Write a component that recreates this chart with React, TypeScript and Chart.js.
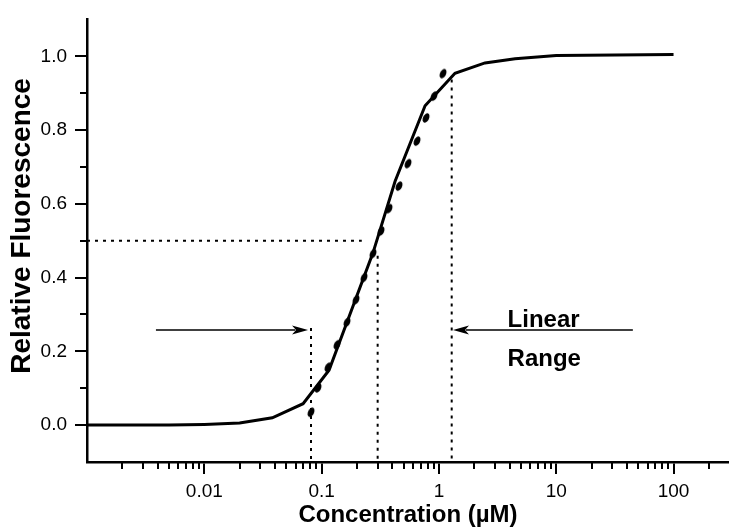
import React, { useEffect, useRef } from "react";
import { Chart, registerables } from "chart.js";

Chart.register(...registerables);

// fitted curve (solid line)
const fitX = [0.001, 0.005, 0.01, 0.02, 0.038, 0.0695, 0.1156, 0.274, 0.423, 0.762, 1.37, 2.47, 4.46, 10, 100];
const fitY = [0.0, 0.0, 0.002, 0.006, 0.02, 0.058, 0.149, 0.467, 0.661, 0.866, 0.954, 0.982, 0.993, 1.002, 1.005];

// measured points
const dataX = [0.0812, 0.0932, 0.1134, 0.1353, 0.1646, 0.1965, 0.2299, 0.2743, 0.3209, 0.3755, 0.4568, 0.5452, 0.6506, 0.7762, 0.9082, 1.084];
const dataY = [0.035, 0.101, 0.157, 0.218, 0.279, 0.34, 0.4, 0.465, 0.526, 0.587, 0.648, 0.709, 0.77, 0.833, 0.892, 0.953];

// dotted guide lines
const halfX = [0.001, 0.22];
const halfY = [0.5, 0.5];
const dropX = [0.0812, 0.3004, 1.285];
const dropTop = [0.263, 0.459, 0.937];

// arrows and annotation text
const arrowFromX = [0.00387, 45];
const arrowToX = [0.0766, 1.318];
const arrowY = [0.258, 0.258];
const noteText = ["Linear", "Range"];
const noteX = [3.85, 3.85];
const noteY = [0.266, 0.159];

// axes
const xMin = 0.001;
const xMax = 297;
const yMin = -0.1;
const yMax = 1.1;
const xTicks = [0.01, 0.1, 1, 10, 100];
const xTickLabels = ["0.01", "0.1", "1", "10", "100"];
const yTicks = [0, 0.2, 0.4, 0.6, 0.8, 1.0];
const yTickLabels = ["0.0", "0.2", "0.4", "0.6", "0.8", "1.0"];
const yMinor = [0.1, 0.3, 0.5, 0.7, 0.9];
const xDecades = [0.001, 0.01, 0.1, 1, 10, 100];
const xMinorMult = [2, 3, 4, 5, 6, 7, 8, 9];
const yTitle = "Relative Fluorescence";
const yTitleCenter = 0.54;

const FONT = "'Liberation Sans', Arial, Helvetica, sans-serif";

export default function App() {
  const ref = useRef<HTMLCanvasElement | null>(null);

  useEffect(() => {
    const canvas = ref.current;
    if (!canvas) return;

    const dot = document.createElement("canvas");
    dot.width = 14;
    dot.height = 14;
    const dc = dot.getContext("2d")!;
    dc.translate(7, 7);
    dc.rotate((25 * Math.PI) / 180);
    dc.beginPath();
    dc.ellipse(0, 0, 3.0, 5.0, 0, 0, Math.PI * 2);
    dc.fillStyle = "#000";
    dc.fill();

    const extras = {
      id: "extras",
      afterDatasetsDraw(chart: any) {
        const ctx = chart.ctx;
        const xs = chart.scales.x;
        const ys = chart.scales.y;
        const area = chart.chartArea;
        ctx.save();
        ctx.strokeStyle = "#000";
        ctx.fillStyle = "#000";
        // minor ticks
        ctx.lineWidth = 2;
        xDecades.forEach((d) => {
          xMinorMult.forEach((m) => {
            const v = d * m;
            if (v <= xMin || v >= xMax) return;
            const px = Math.round(xs.getPixelForValue(v));
            ctx.beginPath();
            ctx.moveTo(px, area.bottom);
            ctx.lineTo(px, area.bottom + 7);
            ctx.stroke();
          });
        });
        yMinor.forEach((v) => {
          const py = Math.round(ys.getPixelForValue(v));
          ctx.beginPath();
          ctx.moveTo(area.left - 7, py);
          ctx.lineTo(area.left, py);
          ctx.stroke();
        });
        // arrows
        ctx.lineWidth = 1.5;
        arrowFromX.forEach((fx, i) => {
          const x0 = xs.getPixelForValue(fx);
          const x1 = xs.getPixelForValue(arrowToX[i]);
          const y = ys.getPixelForValue(arrowY[i]);
          const dir = x1 > x0 ? 1 : -1;
          const headLen = 16;
          ctx.beginPath();
          ctx.moveTo(x0, y);
          ctx.lineTo(x1 - dir * headLen * 0.8, y);
          ctx.stroke();
          ctx.beginPath();
          ctx.moveTo(x1, y);
          ctx.lineTo(x1 - dir * headLen, y - 4.5);
          ctx.lineTo(x1 - dir * headLen * 0.75, y);
          ctx.lineTo(x1 - dir * headLen, y + 4.5);
          ctx.closePath();
          ctx.fill();
        });
        // notes
        ctx.font = `bold 24px ${FONT}`;
        ctx.textAlign = "left";
        ctx.textBaseline = "alphabetic";
        noteText.forEach((t, i) => {
          ctx.fillText(t, xs.getPixelForValue(noteX[i]), ys.getPixelForValue(noteY[i]));
        });
        // y title
        ctx.font = `bold 28px ${FONT}`;
        ctx.textAlign = "center";
        ctx.textBaseline = "middle";
        ctx.translate(22, ys.getPixelForValue(yTitleCenter));
        ctx.rotate(-Math.PI / 2);
        ctx.fillText(yTitle, 0, 0);
        ctx.restore();
      },
    };

    const dropSets = dropX.map((x, i) => ({
      type: "line" as const,
      data: [
        { x, y: dropTop[i] },
        { x, y: yMin },
      ],
      borderColor: "#000",
      borderWidth: 2,
      borderDash: [3, 5],
      pointRadius: 0,
      fill: false,
    }));

    const chart = new Chart(canvas, {
      type: "line",
      data: {
        datasets: [
          {
            data: fitX.map((x, i) => ({ x, y: fitY[i] })),
            borderColor: "#000",
            borderWidth: 3,
            pointRadius: 0,
            tension: 0,
            fill: false,
          },
          {
            data: dataX.map((x, i) => ({ x, y: dataY[i] })),
            showLine: false,
            pointStyle: dot as any,
            pointRadius: 5,
            borderColor: "#000",
            backgroundColor: "#000",
          },
          {
            data: halfX.map((x, i) => ({ x, y: halfY[i] })),
            borderColor: "#000",
            borderWidth: 2,
            borderDash: [3, 5],
            pointRadius: 0,
            fill: false,
          },
          ...dropSets,
        ] as any,
      },
      options: {
        animation: false,
        responsive: false,
        devicePixelRatio: 1,
        layout: { autoPadding: false, padding: { top: 12, right: 0, left: 0, bottom: 0 } },
        plugins: { legend: { display: false }, tooltip: { enabled: false } },
        scales: {
          x: {
            type: "logarithmic",
            min: xMin,
            max: xMax,
            afterFit: (s: any) => {
              s.height = 68;
            },
            afterBuildTicks: (s: any) => {
              s.ticks = xTicks.map((v) => ({ value: v }));
            },
            ticks: {
              autoSkip: false,
              maxRotation: 0,
              padding: 6,
              color: "#000",
              font: { family: FONT, size: 19 },
              callback: (v: any) => {
                const i = xTicks.indexOf(Number(v));
                return i >= 0 ? xTickLabels[i] : "";
              },
            },
            grid: {
              display: true,
              drawOnChartArea: false,
              drawTicks: true,
              tickLength: 12,
              lineWidth: 2,
              color: "#000",
            },
            border: { display: true, color: "#000", width: 2.5 },
            title: {
              display: true,
              text: "Concentration (\u00b5M)",
              color: "#000",
              font: { family: FONT, size: 24, weight: "bold" },
              padding: { top: 0, bottom: 0 },
            },
          },
          y: {
            type: "linear",
            min: yMin,
            max: yMax,
            afterFit: (s: any) => {
              s.width = 87;
            },
            afterBuildTicks: (s: any) => {
              s.ticks = yTicks.map((v) => ({ value: v }));
            },
            ticks: {
              autoSkip: false,
              padding: 8,
              color: "#000",
              font: { family: FONT, size: 19 },
              callback: (v: any) => {
                const i = yTicks.findIndex((t) => Math.abs(t - Number(v)) < 1e-9);
                return i >= 0 ? yTickLabels[i] : "";
              },
            },
            grid: {
              display: true,
              drawOnChartArea: false,
              drawTicks: true,
              tickLength: 12,
              lineWidth: 2,
              color: "#000",
            },
            border: { display: true, color: "#000", width: 2.5 },
            title: { display: false },
          },
        },
      },
      plugins: [extras],
    } as any);

    return () => chart.destroy();
  }, []);

  return (
    <div style={{ position: "fixed", left: 0, top: 0, width: 729, height: 530, background: "#fff" }}>
      <canvas ref={ref} width={729} height={530} style={{ display: "block", width: 729, height: 530 }} />
    </div>
  );
}
